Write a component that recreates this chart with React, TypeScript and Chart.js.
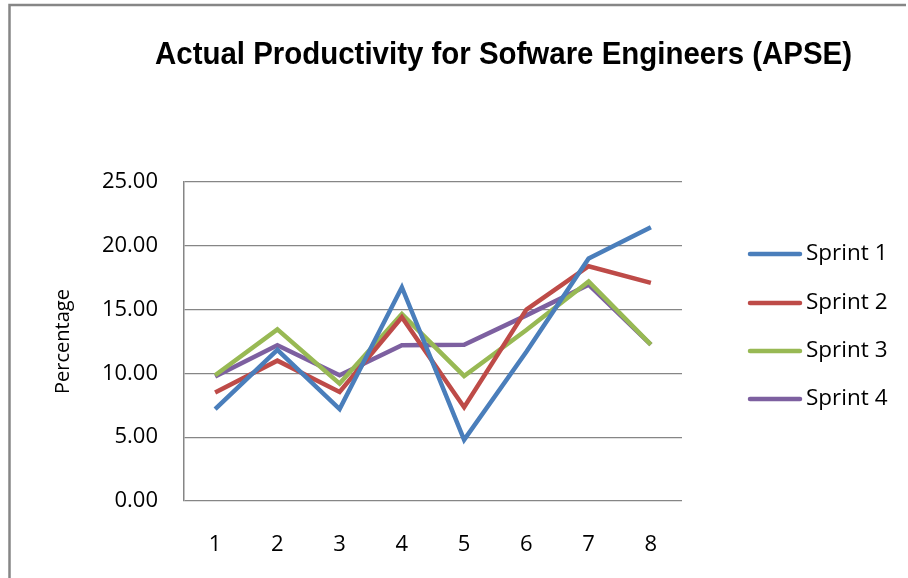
import React, { useEffect, useRef } from "react";
import { Chart, registerables } from "chart.js";

Chart.register(...registerables);

const categories = ["1", "2", "3", "4", "5", "6", "7", "8"];
const sprint1 = [7.2, 11.85, 7.2, 16.75, 4.8, 11.7, 19.0, 21.45];
const sprint2 = [8.5, 11.0, 8.55, 14.4, 7.35, 15.0, 18.4, 17.1];
const sprint3 = [9.85, 13.45, 9.2, 14.65, 9.8, 13.4, 17.2, 12.25];
const sprint4 = [9.75, 12.2, 9.85, 12.2, 12.25, 14.55, 16.95, 12.25];
const seriesNames = ["Sprint 1", "Sprint 2", "Sprint 3", "Sprint 4"];
const seriesColors = ["#4a7ebb", "#be4b48", "#98b954", "#7d60a0"];
const titleText = "Actual Productivity for Sofware Engineers (APSE)";
const yTitle = "Percentage";

const FONT = "'Open Sans', 'Noto Sans', sans-serif";
const GRAY = "#868686";

const framePlugin = {
  id: "frame",
  beforeDraw(chart: any) {
    const ctx = chart.ctx;
    ctx.save();
    ctx.fillStyle = "#ffffff";
    ctx.fillRect(0, 0, chart.width, chart.height);
    ctx.strokeStyle = GRAY;
    ctx.lineWidth = 2.5;
    ctx.beginPath();
    ctx.moveTo(9.5, chart.height + 2);
    ctx.lineTo(9.5, 5);
    ctx.lineTo(906, 5);
    ctx.stroke();
    ctx.restore();
  },
  afterDraw(chart: any) {
    const ctx = chart.ctx;
    ctx.save();
    ctx.fillStyle = "#000000";
    ctx.font = "bold 31px 'Liberation Sans Narrow', 'Liberation Sans', sans-serif";
    ctx.textBaseline = "alphabetic";
    ctx.textAlign = "left";
    const w = ctx.measureText(titleText).width;
    const sx = 697 / w;
    ctx.translate(155, 64);
    ctx.scale(sx, 1);
    ctx.fillText(titleText, 0, 0);
    ctx.restore();

    ctx.save();
    const ys = [254, 303, 351, 399];
    chart.data.datasets.forEach((ds: any, i: number) => {
      const y = ys[i];
      ctx.strokeStyle = ds.borderColor;
      ctx.lineWidth = 4.5;
      ctx.lineCap = "round";
      ctx.beginPath();
      ctx.moveTo(750, y);
      ctx.lineTo(800, y);
      ctx.stroke();
      ctx.fillStyle = "#000000";
      ctx.font = "22.5px " + FONT;
      ctx.textBaseline = "middle";
      ctx.textAlign = "left";
      ctx.fillText(ds.label, 806, y);
    });
    ctx.restore();
  },
};

export default function App() {
  const ref = useRef<HTMLCanvasElement>(null);
  useEffect(() => {
    if (!ref.current) return;
    const seriesData = [sprint1, sprint2, sprint3, sprint4];
    const chart = new Chart(ref.current, {
      type: "line",
      data: {
        labels: categories,
        datasets: seriesData.map((d, i) => ({
          label: seriesNames[i],
          data: d,
          borderColor: seriesColors[i],
          backgroundColor: seriesColors[i],
          borderWidth: 4.5,
          pointRadius: 0,
          pointHoverRadius: 0,
          tension: 0,
          borderJoinStyle: "miter" as const,
        })),
      },
      options: {
        animation: false,
        responsive: false,
        layout: { padding: { top: 182, right: 226, bottom: 0, left: 0 } },
        plugins: {
          legend: { display: false },
          title: { display: false },
          tooltip: { enabled: false },
        },
        scales: {
          x: {
            offset: true,
            grid: { display: false, drawTicks: false },
            border: { display: false },
            ticks: {
              color: "#000000",
              font: { family: FONT, size: 22 },
              padding: 31,
              maxRotation: 0,
              autoSkip: false,
            },
            afterFit(scale: any) {
              scale.height = 77;
            },
          },
          y: {
            min: 0,
            max: 25,
            grid: { color: GRAY, lineWidth: 1.2, drawTicks: false },
            border: { display: true, color: GRAY, width: 1.5 },
            ticks: {
              stepSize: 5,
              color: "#000000",
              font: { family: FONT, size: 22 },
              padding: 26,
              callback: (v: any) => Number(v).toFixed(2),
            },
            title: {
              display: true,
              text: yTitle,
              color: "#000000",
              font: { family: FONT, size: 20 },
              padding: { top: 51, bottom: 0 },
            },
            afterFit(scale: any) {
              scale.width = 184;
            },
          },
        },
      },
      plugins: [framePlugin],
    });
    return () => chart.destroy();
  }, []);
  return (
    <div style={{ position: "fixed", left: 0, top: 0, width: 908, height: 578, background: "#fff" }}>
      <canvas ref={ref} width={908} height={578} style={{ width: 908, height: 578, display: "block" }} />
    </div>
  );
}
